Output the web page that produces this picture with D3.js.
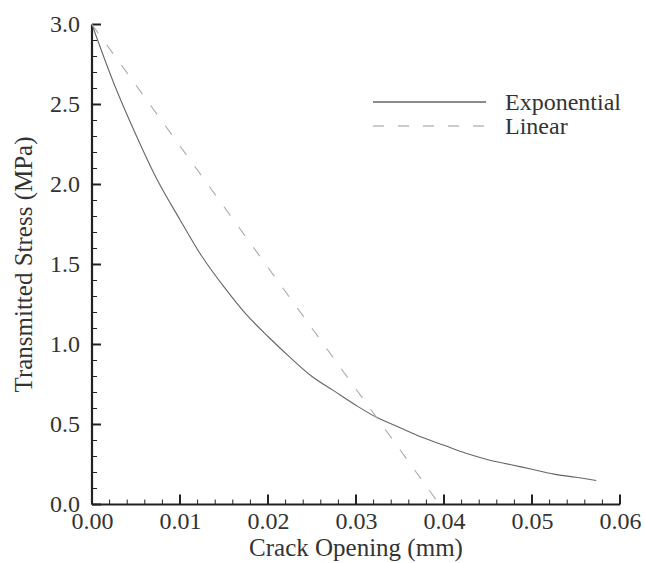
<!DOCTYPE html>
<html>
<head>
<meta charset="utf-8">
<script src="https://cdn.jsdelivr.net/npm/d3@7"></script>
<style>
  html, body { margin: 0; padding: 0; background: #fff; }
</style>
</head>
<body>
<svg id="chart" width="645" height="563"></svg>
<script>
// Cohesive law: transmitted stress vs. crack opening
const expOpening = [0, 0.0025, 0.005, 0.0075, 0.01, 0.0125, 0.015, 0.0175, 0.02, 0.0225,
  0.025, 0.0275, 0.03, 0.0325, 0.035, 0.0375, 0.04, 0.0425, 0.045, 0.0475, 0.05, 0.0525, 0.055, 0.0573];
const expStress = [3.00, 2.63, 2.31, 2.02, 1.78, 1.55, 1.36, 1.19, 1.05, 0.92,
  0.80, 0.71, 0.62, 0.54, 0.48, 0.42, 0.37, 0.32, 0.28, 0.25, 0.22, 0.19, 0.17, 0.15];
const linOpening = [0, 0.0395];
const linStress = [3.0, 0.0];

const xMajorTicks = [0, 0.01, 0.02, 0.03, 0.04, 0.05, 0.06];
const yMajorTicks = [0, 0.5, 1.0, 1.5, 2.0, 2.5, 3.0];
const seriesNames = ["Exponential", "Linear"];

const FONT = "Liberation Serif";
const TEXT_COLOR = "#333";
const AXIS_COLOR = "#222";

const svg = d3.select("#chart");
const x = d3.scaleLinear().domain([0, 0.06]).range([92, 620]);
const y = d3.scaleLinear().domain([0, 3]).range([504.5, 24.5]);

// minor ticks every 0.002 mm and 0.1 MPa
const xMinor = d3.range(0, 61, 2).map(d => d / 1000).filter(d => !xMajorTicks.some(t => Math.abs(t - d) < 1e-9));
const yMinor = d3.range(0, 31, 1).map(d => d / 10).filter(d => !yMajorTicks.some(t => Math.abs(t - d) < 1e-9));

const gx = svg.append("g").attr("transform", `translate(0,${y(0)})`);
gx.call(d3.axisBottom(x).tickValues(xMajorTicks).tickSize(0).tickPadding(0).tickFormat(d3.format(".2f")));
gx.select(".domain").attr("stroke", AXIS_COLOR).attr("stroke-width", 2.2).attr("d", `M${x(0)},0H${x(0.06)}`);
gx.selectAll(".tick text").style("font-family", FONT).attr("font-size", 24)
  .attr("fill", TEXT_COLOR).attr("y", 24).attr("dy", 0);
gx.selectAll(".major").data(xMajorTicks).join("line")
  .attr("x1", d => x(d)).attr("x2", d => x(d)).attr("y1", 0).attr("y2", -10)
  .attr("stroke", AXIS_COLOR).attr("stroke-width", 2);
gx.selectAll(".minor").data(xMinor).join("line")
  .attr("x1", d => x(d)).attr("x2", d => x(d)).attr("y1", 0).attr("y2", -5)
  .attr("stroke", AXIS_COLOR).attr("stroke-width", 1);

const gy = svg.append("g").attr("transform", `translate(${x(0)},0)`);
gy.call(d3.axisLeft(y).tickValues(yMajorTicks).tickSize(0).tickPadding(12).tickFormat(d3.format(".1f")));
gy.select(".domain").attr("stroke", AXIS_COLOR).attr("stroke-width", 2.2).attr("d", `M0,${y(3)}V${y(0)}`);
gy.selectAll(".tick text").style("font-family", FONT).attr("font-size", 24)
  .attr("fill", TEXT_COLOR).attr("dy", "0.3em");
gy.selectAll(".major").data(yMajorTicks).join("line")
  .attr("x1", 0).attr("x2", 9).attr("y1", d => y(d)).attr("y2", d => y(d))
  .attr("stroke", AXIS_COLOR).attr("stroke-width", 2);
gy.selectAll(".minor").data(yMinor).join("line")
  .attr("x1", 0).attr("x2", 5).attr("y1", d => y(d)).attr("y2", d => y(d))
  .attr("stroke", AXIS_COLOR).attr("stroke-width", 1);

// axis titles
svg.append("text").attr("x", (x(0) + x(0.06)) / 2).attr("y", 556)
  .attr("text-anchor", "middle").style("font-family", FONT).attr("fill", TEXT_COLOR)
  .attr("font-size", 25).text("Crack Opening (mm)");
svg.append("text").attr("transform", `translate(32,${(y(0) + y(3)) / 2}) rotate(-90)`)
  .attr("text-anchor", "middle").style("font-family", FONT).attr("fill", TEXT_COLOR)
  .attr("font-size", 25).text("Transmitted Stress (MPa)");

// curves
const expData = d3.zip(expOpening, expStress);
const linData = d3.zip(linOpening, linStress);

svg.append("path").datum(expData)
  .attr("d", d3.line().x(d => x(d[0])).y(d => y(d[1])).curve(d3.curveCatmullRom))
  .attr("fill", "none").attr("stroke", "#666").attr("stroke-width", 1.1);
svg.append("path").datum(linData)
  .attr("d", d3.line().x(d => x(d[0])).y(d => y(d[1])))
  .attr("fill", "none").attr("stroke", "#aaa").attr("stroke-width", 1.1)
  .attr("stroke-dasharray", "11,14");

// legend
const legend = svg.append("g");
const legendRows = [
  { name: seriesNames[0], yPos: 102, stroke: "#666", dash: null },
  { name: seriesNames[1], yPos: 126, stroke: "#bbb", dash: "11,14" }
];
legendRows.forEach(r => {
  legend.append("line").attr("x1", 373).attr("x2", 486).attr("y1", r.yPos).attr("y2", r.yPos)
    .attr("stroke", r.stroke).attr("stroke-width", 1.3)
    .attr("stroke-dasharray", r.dash);
  legend.append("text").attr("x", 505).attr("y", r.yPos + 8).style("font-family", FONT)
    .attr("fill", TEXT_COLOR).attr("font-size", 24).text(r.name);
});
</script>
</body>
</html>
